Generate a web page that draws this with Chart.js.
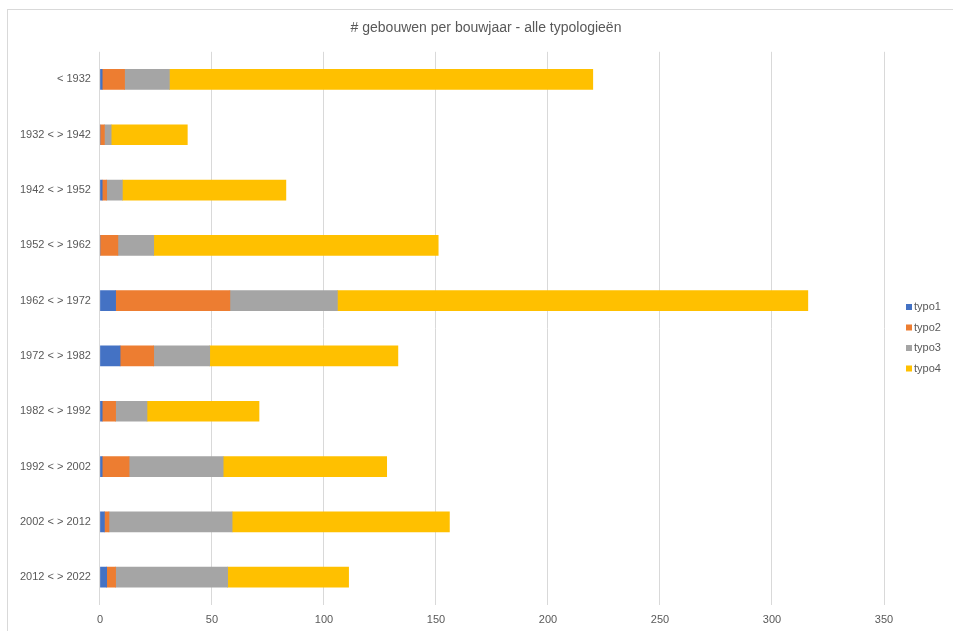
<!DOCTYPE html>
<html>
<head>
<meta charset="utf-8">
<script src="https://cdn.jsdelivr.net/npm/chart.js@4/dist/chart.umd.min.js"></script>
<style>
  html, body { margin: 0; padding: 0; background: #fff; overflow: hidden; width: 953px; height: 631px; }
  #frame { position: absolute; left: 7px; top: 9px; width: 958px; height: 626px; border: 1px solid #d9d9d9; }
</style>
</head>
<body>
<div id="frame"><canvas id="bouwjaarChart"></canvas></div>
<script>
const categories = ["< 1932", "1932 < > 1942", "1942 < > 1952", "1952 < > 1962", "1962 < > 1972",
  "1972 < > 1982", "1982 < > 1992", "1992 < > 2002", "2002 < > 2012", "2012 < > 2022"];
const typo1 = [1, 0, 1, 0, 7, 9, 1, 1, 2, 3];
const typo2 = [10, 2, 2, 8, 51, 15, 6, 12, 2, 4];
const typo3 = [20, 3, 7, 16, 48, 25, 14, 42, 55, 50];
const typo4 = [189, 34, 73, 127, 210, 84, 50, 73, 97, 54];
const xTicks = [0, 50, 100, 150, 200, 250, 300, 350];

const textColor = "#595959";
const fontFamily = "'Liberation Sans', Arial, sans-serif";
const font = { family: fontFamily, size: 11 };

// Excel-style legend on the right, drawn next to the plot
const sideLegend = {
  id: "sideLegend",
  afterDraw(chart) {
    const c = chart.ctx;
    c.save();
    c.font = "11px " + fontFamily;
    c.textBaseline = "middle";
    c.textAlign = "left";
    chart.data.datasets.forEach((ds, i) => {
      const y = 297 + i * 20.5;
      c.fillStyle = ds.backgroundColor;
      c.fillRect(898, y - 3, 6, 6);
      c.fillStyle = textColor;
      c.fillText(ds.label, 906, y);
    });
    c.restore();
  }
};

const ctx = document.getElementById("bouwjaarChart").getContext("2d");
const chart = new Chart(ctx, {
  type: "bar",
  data: {
    labels: categories,
    datasets: [
      { label: "typo1", data: typo1, backgroundColor: "#4472C4" },
      { label: "typo2", data: typo2, backgroundColor: "#ED7D31" },
      { label: "typo3", data: typo3, backgroundColor: "#A5A5A5" },
      { label: "typo4", data: typo4, backgroundColor: "#FFC000" }
    ]
  },
  options: {
    indexAxis: "y",
    responsive: true,
    maintainAspectRatio: false,
    animation: false,
    barThickness: 20,
    layout: { padding: { left: 3, right: 5, bottom: 0 } },
    plugins: {
      title: {
        display: true,
        text: "# gebouwen per bouwjaar - alle typologieën",
        color: textColor,
        font: { family: fontFamily, size: 14, weight: "normal" },
        padding: { top: 10, bottom: 15 }
      },
      legend: { display: false },
      tooltip: { enabled: false }
    },
    scales: {
      x: {
        stacked: true,
        min: 0,
        max: 350,
        afterBuildTicks: axis => { axis.ticks = xTicks.map(v => ({ value: v })); },
        grid: { color: "#d9d9d9", drawTicks: false },
        border: { display: false },
        ticks: { color: textColor, font: font, padding: 9 }
      },
      y: {
        stacked: true,
        grid: { display: false, drawTicks: false },
        border: { display: false },
        ticks: { color: textColor, font: font, padding: 9 }
      },
      legendSpace: {
        type: "category",
        axis: "y",
        position: "right",
        grid: { display: false, drawTicks: false },
        border: { display: false },
        ticks: { display: false },
        afterFit: s => { s.width = 77; }
      }
    }
  },
  plugins: [sideLegend]
});
</script>
</body>
</html>
